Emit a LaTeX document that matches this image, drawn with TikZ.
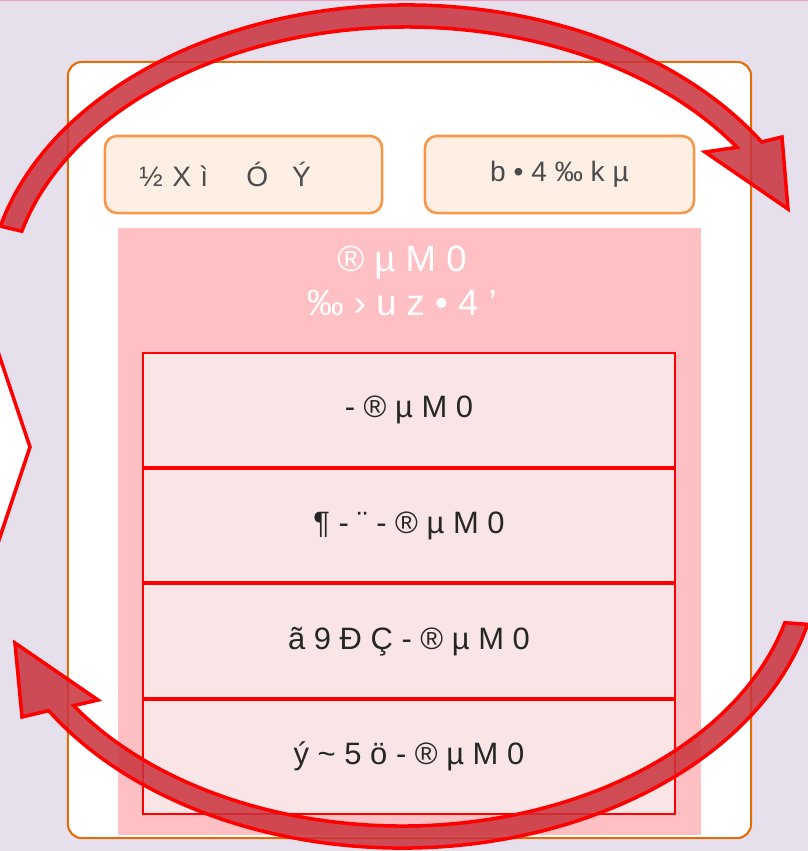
\documentclass[tikz,border=0pt]{standalone}
\usepackage{fontspec}
\setmainfont{Liberation Sans}
\usepackage{tikz}
\usetikzlibrary{positioning}
\definecolor{bgcolor}{RGB}{230,224,236}
\definecolor{topline}{RGB}{240,160,200}
\definecolor{frameorange}{RGB}{228,108,10}
\definecolor{tagorange}{RGB}{247,150,70}
\definecolor{tagfill}{RGB}{253,239,228}
\definecolor{stackpink}{RGB}{255,192,196}
\definecolor{layerfill}{RGB}{249,229,230}
\definecolor{arrowfill}{RGB}{200,50,60}

\begin{document}
\begin{tikzpicture}[
    x=0.025cm, y=-0.025cm,
    frame/.style={rectangle, draw=frameorange, line width=1.5pt, rounded corners=0.35cm, fill=white},
    tag/.style={rectangle, draw=tagorange, line width=1.8pt, rounded corners=0.3cm, fill=tagfill, minimum height=1.925cm, font=\fontsize{20}{24}\selectfont, text=black!70},
    layer/.style={rectangle, draw=red, line width=1.4pt, fill=layerfill, minimum width=13.3cm, minimum height=2.84cm, font=\fontsize{22}{26}\selectfont, text=black!85},
    cyclearrow/.style={draw=red, line width=2.5pt, fill=arrowfill, fill opacity=0.85, line join=miter}
]
\useasboundingbox (0,0) rectangle (808,851);
\fill[bgcolor] (0,0) rectangle (808,851);
\draw[topline, line width=1.2pt] (0,0.5) -- (808,0.5);

% outer frame and the two tags
\node[frame, minimum width=17.075cm, minimum height=19.4cm] (frame) at (409.5,450) {};
\node[tag, minimum width=6.925cm, text width=5.2cm, align=left] (tagl) at (243.5,174.5) {½ X ì\hspace{0.95cm}Ó\hspace{0.6cm}Ý};
\node[tag, minimum width=6.725cm] (tagr) at (559.5,174.5) {b • 4 ‰ k µ};

% layer stack
\node[rectangle, fill=stackpink, inner sep=0pt, minimum width=14.575cm, minimum height=15.175cm] (stack) at (409.5,531.5) {};
\node[font=\fontsize{26}{31}\selectfont, text=white, align=center] (stacktitle) at (402,281) {® µ M 0\\‰ › u z • 4 ’};
\node[layer] (l1) at (409,410) {- ® µ M 0};
\node[layer, below=0pt of l1] (l2) {¶ - ¨ - ® µ M 0};
\node[layer, below=0pt of l2] (l3) {ã 9 Ð Ç - ® µ M 0};
\node[layer, below=0pt of l3] (l4) {ý \textasciitilde{} 5 ö - ® µ M 0};

% left edge shape
\draw[draw=red, line width=2.5pt, fill=white] (-10,328) -- (30,447) -- (-10,567);

% cycle arrows
\draw[cyclearrow] ({407+420*cos(194.5)},{300+295*sin(194.5)})
    arc[start angle=194.5, end angle=327.6, x radius=420, y radius=295]
    -- (782,137) -- (788,209) -- (705,152)
    -- ({407+398*cos(326)},{300+273*sin(326)})
    arc[start angle=326, end angle=194.6, x radius=398, y radius=273] -- cycle;
\draw[cyclearrow] ({402+418*cos(14)},{553+295*sin(14)})
    arc[start angle=14, end angle=147.7, x radius=418, y radius=295]
    -- (22,717) -- (15,643) -- (98,700)
    -- ({402+396*cos(146)},{553+273*sin(146)})
    arc[start angle=146, end angle=14.8, x radius=396, y radius=273] -- cycle;
\end{tikzpicture}
\end{document}
